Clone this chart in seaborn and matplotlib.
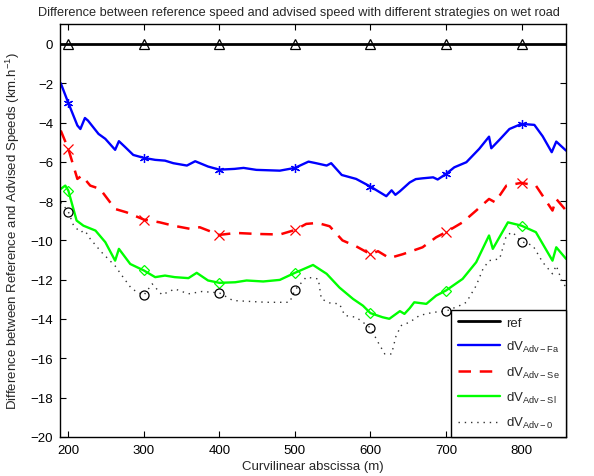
import numpy as np
import pandas as pd
import matplotlib
matplotlib.use("Agg")
import matplotlib.pyplot as plt
import seaborn as sns

# ---------------- data ----------------
marker_x = [200, 300, 400, 500, 600, 700, 800]

ref_x = [189, 200, 300, 400, 500, 600, 700, 800, 859]
ref_y = [0, 0, 0, 0, 0, 0, 0, 0, 0]

fa_x = [190, 200, 212, 216, 222, 226, 240, 249, 262, 267, 275, 286, 300, 315, 328,
        339, 357, 368, 385, 400, 420, 432, 449, 480, 500, 518, 528, 542, 548, 562,
        581, 600, 621, 628, 633, 639, 652, 660, 669, 683, 689, 700, 711, 727, 744,
        757, 760, 771, 784, 800, 817, 828, 840, 846, 859]
fa_y = [-2.0, -3.0, -4.15, -4.33, -3.77, -3.9, -4.58, -4.83, -5.39, -4.95, -5.24, -5.65,
        -5.8, -5.9, -5.94, -6.07, -6.19, -5.97, -6.24, -6.4, -6.36, -6.31, -6.41, -6.45,
        -6.31, -5.99, -6.07, -6.19, -6.07, -6.67, -6.87, -7.26, -7.75, -7.45, -7.68, -7.5,
        -7.05, -6.88, -6.84, -6.79, -6.9, -6.62, -6.28, -6.02, -5.34, -4.72, -5.31, -4.87,
        -4.33, -4.07, -4.12, -4.7, -5.51, -4.97, -5.43]

se_x = [190, 200, 212, 218, 229, 242, 262, 277, 300, 321, 339, 361, 374, 400, 422,
        449, 480, 500, 515, 530, 546, 563, 581, 600, 610, 625, 643, 669, 687, 700,
        722, 740, 757, 765, 780, 800, 819, 841, 846, 859]
se_y = [-4.41, -5.34, -6.87, -6.7, -7.21, -7.38, -8.4, -8.57, -8.94, -9.08, -9.25, -9.41,
        -9.33, -9.72, -9.62, -9.67, -9.7, -9.47, -9.16, -9.11, -9.28, -10.0, -10.3, -10.7,
        -10.55, -10.9, -10.7, -10.35, -9.84, -9.58, -9.08, -8.48, -7.89, -8.06, -7.21,
        -7.07, -7.21, -8.48, -7.89, -8.48]

sl_x = [190, 196, 200, 211, 220, 236, 249, 262, 267, 282, 300, 315, 328, 341, 359,
        370, 385, 400, 421, 436, 458, 480, 500, 524, 542, 559, 577, 590, 600, 616,
        625, 639, 645, 652, 658, 674, 687, 700, 722, 740, 757, 762, 782, 800, 819,
        841, 846, 859]
sl_y = [-7.38, -7.21, -7.46, -8.99, -9.25, -9.5, -10.09, -11.03, -10.43, -11.2, -11.53,
        -11.87, -11.79, -11.87, -11.92, -11.65, -12.04, -12.16, -12.13, -12.04, -12.09,
        -12.01, -11.65, -11.25, -11.7, -12.4, -12.98, -13.32, -13.7, -13.91, -13.99, -13.6,
        -13.74, -13.45, -13.15, -13.23, -12.81, -12.55, -11.96, -11.11, -9.75, -10.43,
        -9.08, -9.25, -9.58, -11.03, -10.35, -10.94]

z_x = [190, 200, 207, 216, 222, 229, 244, 262, 271, 284, 300, 311, 324, 341, 359, 377,
       400, 418, 462, 493, 500, 515, 531, 535, 546, 559, 566, 581, 600, 610, 619, 628,
       634, 641, 652, 665, 683, 700, 718, 727, 740, 749, 757, 771, 780, 788, 800, 815,
       828, 841, 846, 854, 859]
z_y = [-8.06, -8.53, -9.25, -9.58, -9.5, -9.92, -10.6, -11.3, -11.79, -12.47, -12.79,
       -12.21, -12.77, -12.47, -12.72, -12.6, -12.67, -13.06, -13.15, -13.15, -12.53,
       -11.87, -11.96, -12.98, -13.18, -13.23, -13.82, -13.91, -14.45, -15.18, -15.78,
       -15.78, -14.84, -14.33, -14.16, -13.82, -13.66, -13.6, -13.32, -13.15, -12.3,
       -11.45, -11.03, -10.94, -9.75, -9.58, -10.06, -10.26, -11.11, -11.7, -11.28,
       -12.13, -12.38]

labels = ["ref", r"dV$_{\mathrm{Adv-Fa}}$", r"dV$_{\mathrm{Adv-Se}}$",
          r"dV$_{\mathrm{Adv-Sl}}$", r"dV$_{\mathrm{Adv-0}}$"]
xticks = [200, 300, 400, 500, 600, 700, 800]
yticks = [0, -2, -4, -6, -8, -10, -12, -14, -16, -18, -20]

title = "Difference between reference speed and advised speed with different strategies on wet road"
xlabel = "Curvilinear abscissa (m)"
ylabel = r"Difference between Reference and Advised Speeds (km.h$^{-1}$)"

# ---------------- style ----------------
sns.set_theme(style="ticks")
plt.rcParams["font.family"] = ["Liberation Sans", "DejaVu Sans"]
plt.rcParams["mathtext.fontset"] = "custom"
plt.rcParams["mathtext.rm"] = "Liberation Sans"
plt.rcParams["mathtext.it"] = "Liberation Sans"

fig = plt.figure(figsize=(5.94, 4.77), dpi=100)
ax = fig.add_axes([0.101, 0.082, 0.852, 0.865])

series = [
    (ref_x, ref_y, "black", "-", 2.0, "^", labels[0]),
    (fa_x, fa_y, "#0000ff", "-", 1.7, (6, 2, 0), labels[1]),
    (se_x, se_y, "#ff0000", (0, (5, 3.5)), 1.8, "x", labels[2]),
    (sl_x, sl_y, "#00ff00", "-", 1.7, "D", labels[3]),
    (z_x, z_y, "#333333", (0, (1, 3.5)), 1.0, "o", labels[4]),
]

for xs, ys, col, ls, lw, mk, lab in series:
    df = pd.DataFrame({"x": xs, "y": ys})
    sns.lineplot(data=df, x="x", y="y", ax=ax, color=col, linewidth=lw,
                 linestyle=ls, sort=False, estimator=None, label=lab)
    dm = df[df["x"].isin(marker_x)]
    mcol = "black" if col == "#333333" else col
    ax.plot(dm["x"], dm["y"], linestyle="none", marker=mk,
            markersize=6.5 if mk != "D" else 5.5,
            markerfacecolor="none", markeredgecolor=mcol, markeredgewidth=0.9,
            label="_nolegend_")

ax.set_xlim(189, 859)
ax.set_ylim(-20, 1)
ax.set_xticks(xticks)
ax.set_yticks(yticks)
ax.tick_params(direction="in", top=True, right=True, length=4, width=0.8,
               labelsize=9.5, colors="black", pad=5)
for s in ax.spines.values():
    s.set_linewidth(1.0)
    s.set_color("black")

fig.text(0.503, 0.972, title, fontsize=9.2, ha="center", va="center")
ax.set_xlabel(xlabel, fontsize=9.5, labelpad=3)
ax.set_ylabel(ylabel, fontsize=9.5, labelpad=6)

leg = ax.legend(loc="lower right", borderaxespad=0, fancybox=False, framealpha=1,
                edgecolor="black", fontsize=9.5, handlelength=3.2, labelspacing=0.78,
                borderpad=0.5, handletextpad=0.45)
leg.get_frame().set_linewidth(1.0)

fig.savefig("out.png", dpi=100)
